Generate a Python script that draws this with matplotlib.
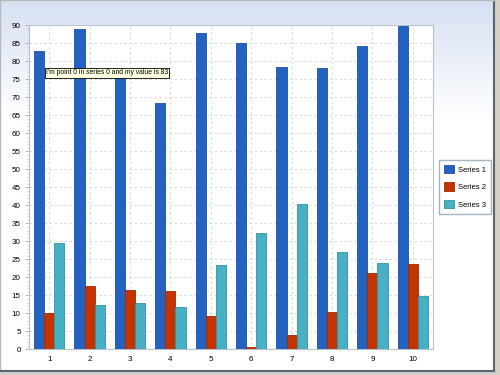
import numpy as np
import matplotlib
matplotlib.use("Agg")
import matplotlib.pyplot as plt
from matplotlib.ticker import MultipleLocator
from matplotlib.patches import Patch

plt.rcParams["font.family"] = ["Liberation Sans", "DejaVu Sans"]

categories = [1, 2, 3, 4, 5, 6, 7, 8, 9, 10]
series_1 = [83, 89, 77, 68.5, 87.8, 85, 78.3, 78.2, 84.2, 89.8]
series_2 = [10, 17.6, 16.4, 16.2, 9.3, 0.6, 3.9, 10.4, 21.2, 23.8]
series_3 = [29.4, 12.3, 12.9, 11.7, 23.5, 32.3, 40.4, 27.1, 24, 14.8]
series_names = ["Series 1", "Series 2", "Series 3"]
tooltip = "I'm point 0 in series 0 and my value is 83"

colors = ["#2462c2", "#c43400", "#47b0c4"]
edges = ["#1c4fa0", "#a02a00", "#2f93a6"]

W, H = 500, 375
fig = plt.figure(figsize=(5, 3.75), dpi=100, facecolor="#d4d0c8")

# panel with gradient background
bg = fig.add_axes([0, 4 / H, 494 / W, 371 / H])
grad = np.linspace(0, 1, 256).reshape(-1, 1)
top = np.array([0.84, 0.88, 0.95])
white = np.array([1.0, 1.0, 1.0])
t = np.clip(grad / 0.32, 0, 1)
img = top * (1 - t[..., None]) + white * t[..., None]
bg.imshow(img, aspect="auto", extent=[0, 1, 0, 1], origin="upper")
bg.set_xlim(0, 1)
bg.set_ylim(0, 1)
bg.set_xticks([])
bg.set_yticks([])
for side in ["right", "bottom"]:
    bg.spines[side].set_color("#5c6670")
    bg.spines[side].set_linewidth(1.5)
for side in ["left", "top"]:
    bg.spines[side].set_color("#b8b8b8")
    bg.spines[side].set_linewidth(1)

ax = fig.add_axes([29 / W, (H - 349.3) / H, 404 / W, 324 / H])
ax.set_facecolor("white")
x = np.array(categories)
w = 0.25
for i, vals in enumerate([series_1, series_2, series_3]):
    ax.bar(x + (i - 1) * w, vals, width=w, color=colors[i], edgecolor=edges[i],
           linewidth=0.6, zorder=3)

ax.set_xlim(0.5, 10.5)
ax.set_ylim(0, 90)
ax.set_xticks(x)
ax.set_xticklabels([str(c) for c in categories])
ax.yaxis.set_major_locator(MultipleLocator(5))
ax.yaxis.set_minor_locator(MultipleLocator(1))
ax.tick_params(axis="x", length=0, labelsize=5.8, pad=5)
ax.tick_params(axis="y", which="major", length=3, color="#b0b8c4", labelsize=5.8, pad=3)
ax.tick_params(axis="y", which="minor", length=1.5, color="#c8ced8")
ax.grid(True, axis="both", color="#d6d6d6", linestyle=(0, (3, 3)), linewidth=0.6, zorder=0)
for s in ax.spines.values():
    s.set_color("#b8c2cc")
    s.set_linewidth(0.8)

handles = [Patch(facecolor=colors[i], edgecolor=edges[i], linewidth=0.6) for i in range(3)]
fig.legend(handles, series_names, loc="upper left",
           bbox_to_anchor=(439 / W, (H - 160) / H), fontsize=5.5,
           frameon=True, fancybox=False, edgecolor="#a8b4c0", framealpha=1,
           handlelength=1.3, handleheight=1.3, labelspacing=1.15,
           borderpad=0.65, handletextpad=0.5, borderaxespad=0)

fig.text(46 / W, 1 - 73 / H, tooltip, fontsize=4.9, va="center", ha="left",
         bbox=dict(boxstyle="square,pad=0.2", facecolor="#ffffe1",
                   edgecolor="black", linewidth=0.6), zorder=10)

fig.savefig("out.png", dpi=100, facecolor=fig.get_facecolor())
